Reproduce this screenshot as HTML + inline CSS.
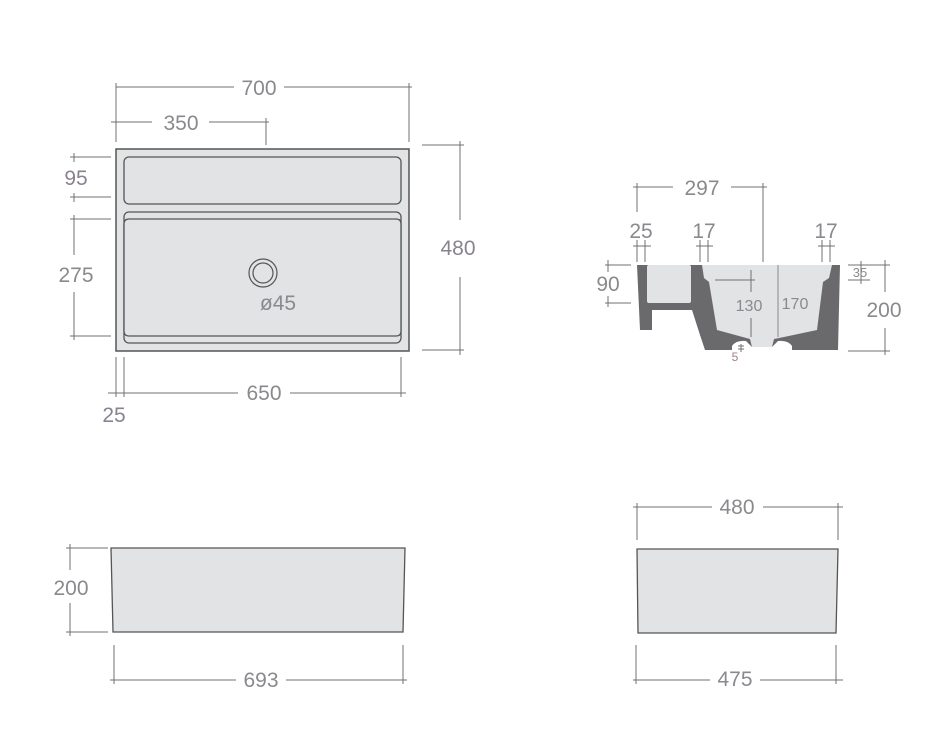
<!DOCTYPE html>
<html><head><meta charset="utf-8"><style>
html,body{margin:0;padding:0;background:#fff;}
svg{display:block;}
text{font-family:"Liberation Sans",sans-serif;fill:#8a8a8e;text-anchor:middle;}
</style></head><body>
<svg width="950" height="750" viewBox="0 0 950 750" xmlns="http://www.w3.org/2000/svg">
<g stroke="#707070" stroke-width="1" fill="none">
<line x1="116" y1="87" x2="234" y2="87"/><line x1="284" y1="87" x2="412" y2="87"/>
<line x1="116" y1="83" x2="116" y2="142"/><line x1="409" y1="83" x2="409" y2="142"/>
<line x1="111" y1="122" x2="152" y2="122"/><line x1="209" y1="122" x2="269" y2="122"/>
<line x1="266" y1="118" x2="266" y2="145"/>
<line x1="70" y1="157" x2="111" y2="157"/><line x1="70" y1="197" x2="111" y2="197"/>
<line x1="74" y1="153" x2="74" y2="162"/><line x1="74" y1="193" x2="74" y2="202"/>
<line x1="70" y1="219" x2="111" y2="219"/><line x1="70" y1="336" x2="111" y2="336"/>
<line x1="74" y1="215" x2="74" y2="255"/><line x1="74" y1="292" x2="74" y2="340"/>
<line x1="422" y1="145" x2="464" y2="145"/><line x1="422" y1="350" x2="464" y2="350"/>
<line x1="460" y1="141" x2="460" y2="220"/><line x1="460" y1="277" x2="460" y2="355"/>
<line x1="108" y1="393" x2="238" y2="393"/><line x1="290" y1="393" x2="406" y2="393"/>
<line x1="116" y1="357" x2="116" y2="397"/><line x1="124" y1="357" x2="124" y2="397"/><line x1="401" y1="357" x2="401" y2="397"/>
<line x1="66" y1="548" x2="108" y2="548"/><line x1="66" y1="632" x2="108" y2="632"/>
<line x1="70" y1="544" x2="70" y2="570"/><line x1="70" y1="603" x2="70" y2="636"/>
<line x1="110" y1="680" x2="236" y2="680"/><line x1="286" y1="680" x2="407" y2="680"/>
<line x1="114" y1="645" x2="114" y2="684"/><line x1="403" y1="645" x2="403" y2="684"/>
<line x1="633" y1="507" x2="712" y2="507"/><line x1="763" y1="507" x2="843" y2="507"/>
<line x1="637" y1="503" x2="637" y2="540"/><line x1="838" y1="503" x2="838" y2="540"/>
<line x1="633" y1="680" x2="710" y2="680"/><line x1="760" y1="680" x2="843" y2="680"/>
<line x1="636" y1="645" x2="636" y2="684"/><line x1="836" y1="645" x2="836" y2="684"/>
<line x1="633" y1="187" x2="673" y2="187"/><line x1="731" y1="187" x2="767" y2="187"/>
<line x1="637" y1="183" x2="637" y2="212"/><line x1="763" y1="183" x2="763" y2="262"/>
<line x1="633" y1="246" x2="651" y2="246"/><line x1="637" y1="240" x2="637" y2="262"/><line x1="645" y1="240" x2="645" y2="262"/>
<line x1="696" y1="246" x2="713" y2="246"/><line x1="700" y1="240" x2="700" y2="262"/><line x1="708" y1="240" x2="708" y2="262"/>
<line x1="818" y1="246" x2="835" y2="246"/><line x1="822" y1="240" x2="822" y2="262"/><line x1="830" y1="240" x2="830" y2="262"/>
<line x1="605" y1="265" x2="631" y2="265"/><line x1="605" y1="303" x2="631" y2="303"/>
<line x1="608" y1="260" x2="608" y2="272"/><line x1="608" y1="296" x2="608" y2="307"/>
<line x1="848" y1="265" x2="890" y2="265"/><line x1="848" y1="280" x2="870" y2="280"/><line x1="848" y1="351" x2="890" y2="351"/>
<line x1="861" y1="261" x2="861" y2="284"/>
<line x1="885" y1="260" x2="885" y2="292"/><line x1="885" y1="328" x2="885" y2="355"/>
</g>
<rect x="116" y="149" width="293" height="202" fill="#e2e3e5" stroke="#555" stroke-width="1.5"/>
<rect x="124" y="157" width="277" height="47" rx="5" fill="#e2e3e5" stroke="#555" stroke-width="1.3"/>
<rect x="124" y="212" width="277" height="131" rx="5" fill="#e2e3e5" stroke="#555" stroke-width="1.3"/>
<path d="M124,224 Q124,219 129,219 H396 Q401,219 401,224 V331 Q401,336 396,336 H129 Q124,336 124,331 Z" fill="#e2e3e5" stroke="#555" stroke-width="1.3"/>
<circle cx="263" cy="273" r="14" fill="none" stroke="#555" stroke-width="1.2"/>
<circle cx="263" cy="273" r="10" fill="none" stroke="#555" stroke-width="1.2"/>
<path d="M111,548 H405 L403,632 H113 Z" fill="#e2e3e5" stroke="#555" stroke-width="1.3"/>
<path d="M637,549 H838 L836,633 H638 Z" fill="#e2e3e5" stroke="#555" stroke-width="1.3"/>
<!-- section -->
<path d="M637,265 H840 L838,350 H792 V346 Q788,340 778,341 L772,347 H752 L746,341 Q736,340 732,346 V350 H705 L700,335 L692,310 H652 V330 H640 Z" fill="#6a6a6c"/>
<rect x="647" y="265" width="44" height="38" rx="2" fill="#e2e3e5"/>
<path d="M702,265 H832 L829,278 L823,282 L817,330 L784,337 L774,339 L772,347 H752 L750,339 L717,330 L709,282 L704,278 Z" fill="#e2e3e5"/>
<line x1="778" y1="265" x2="778" y2="337" stroke="#888" stroke-width="1"/>
<g stroke="#707070" stroke-width="1">
<line x1="715" y1="280" x2="755" y2="280"/><line x1="751" y1="270" x2="751" y2="292"/><line x1="751" y1="318" x2="751" y2="337"/>
<line x1="741" y1="344" x2="741" y2="352"/><line x1="738" y1="346" x2="744" y2="346"/><line x1="738" y1="349" x2="744" y2="349"/>
</g>
<g font-size="21">
<text x="259" y="95">700</text>
<text x="181" y="130">350</text>
<text x="76" y="185" style="fill:#8a8290">95</text>
<text x="76" y="282">275</text>
<text x="458" y="255" style="fill:#8a8290">480</text>
<text x="264" y="400">650</text>
<text x="114" y="422" style="fill:#8a8290">25</text>
<text x="278" y="310">ø45</text>
<text x="71" y="595">200</text>
<text x="261" y="687">693</text>
<text x="737" y="514">480</text>
<text x="735" y="686">475</text>
<text x="702" y="195">297</text>
<text x="641" y="238">25</text>
<text x="704" y="238">17</text>
<text x="826" y="238">17</text>
<text x="608" y="291">90</text>
<text x="884" y="317">200</text>
</g>
<text x="860" y="277" font-size="13">35</text>
<text x="749" y="311" font-size="16">130</text>
<text x="795" y="309" font-size="16">170</text>
<text x="735" y="361" font-size="12" style="fill:#a08080">5</text>
</svg>
</body></html>
